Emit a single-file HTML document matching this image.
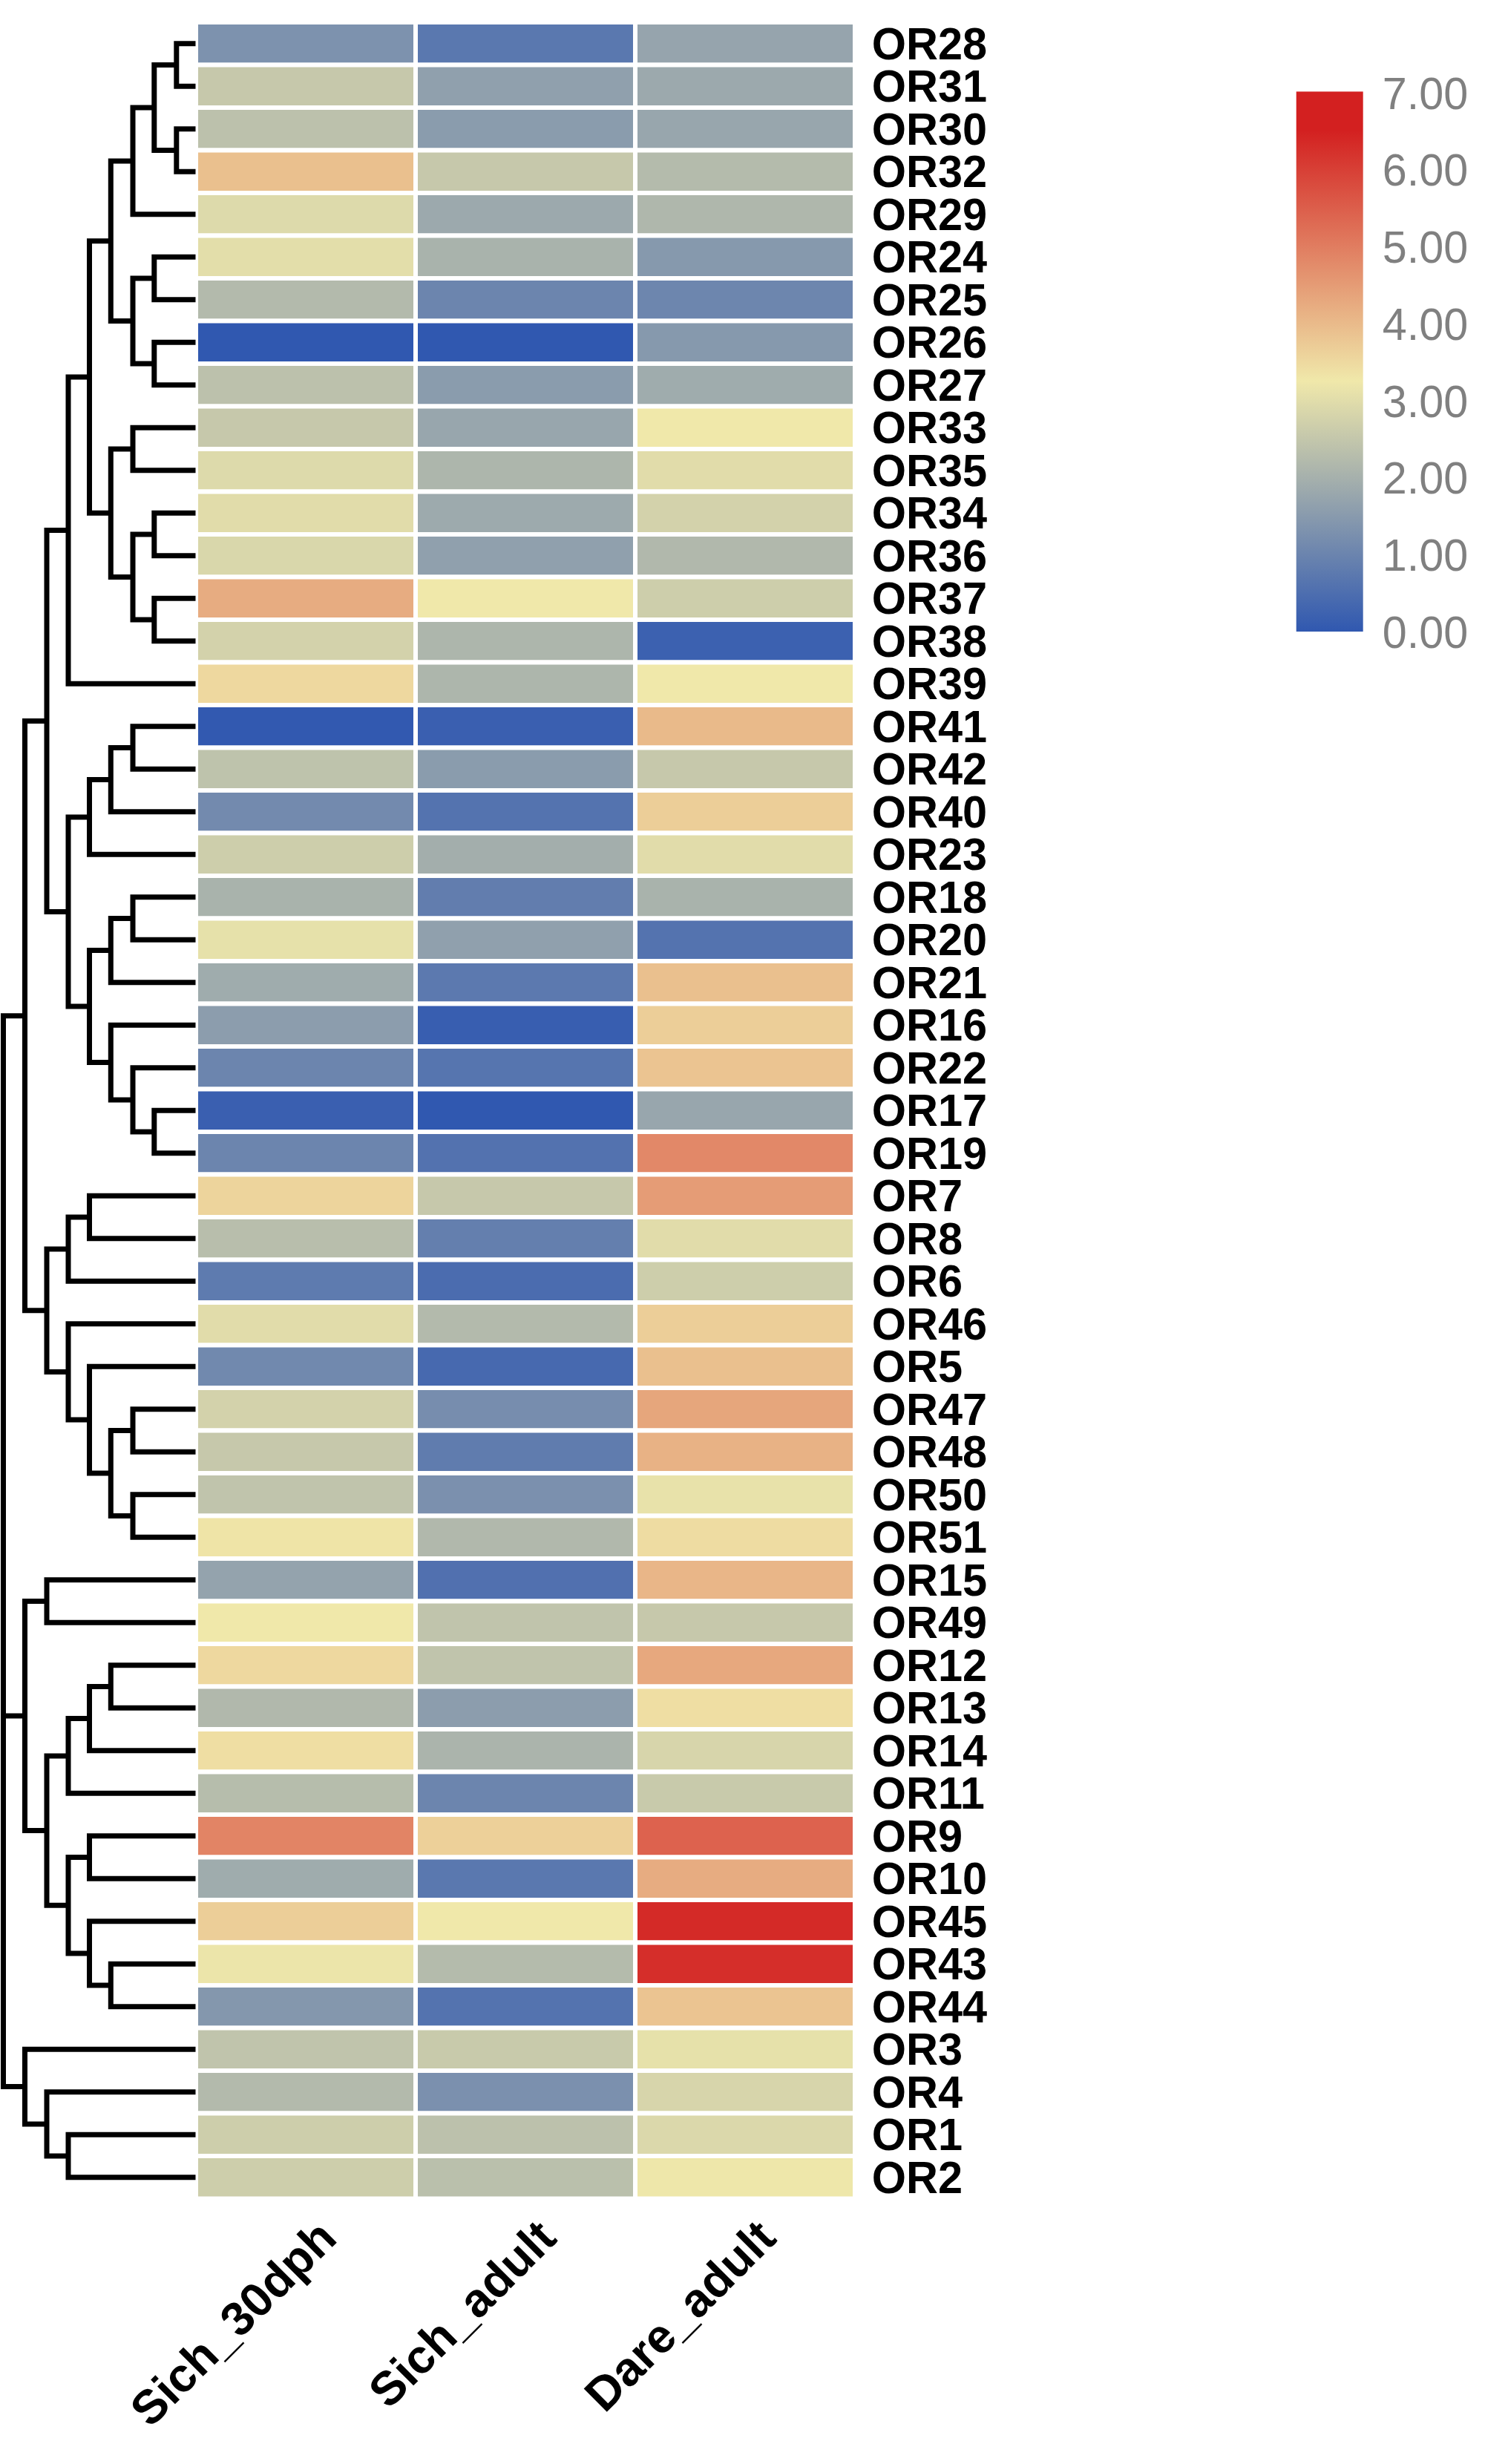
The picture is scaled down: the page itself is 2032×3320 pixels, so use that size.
<!DOCTYPE html><html><head><meta charset="utf-8"><title>Heatmap</title><style>html,body{margin:0;padding:0;background:#fff}svg{display:block}</style></head><body><svg width="2032" height="3320" viewBox="0 0 2032 3320">
<defs><linearGradient id="lg" x1="0" y1="0" x2="0" y2="1"><stop offset="0" stop-color="#d32020"/><stop offset="0.0714" stop-color="#d32020"/><stop offset="0.5357" stop-color="#f0e8aa"/><stop offset="1" stop-color="#3058b0"/></linearGradient></defs>
<rect width="2032" height="3320" fill="#fff"/>
<rect x="264.0" y="30.00" width="296.0" height="57.50" fill="#7d92ae" stroke="#fff" stroke-width="6"/>
<rect x="560.0" y="30.00" width="296.0" height="57.50" fill="#5a78af" stroke="#fff" stroke-width="6"/>
<rect x="856.0" y="30.00" width="296.0" height="57.50" fill="#96a4ad" stroke="#fff" stroke-width="6"/>
<rect x="264.0" y="87.50" width="296.0" height="57.50" fill="#c6c8ab" stroke="#fff" stroke-width="6"/>
<rect x="560.0" y="87.50" width="296.0" height="57.50" fill="#90a0ad" stroke="#fff" stroke-width="6"/>
<rect x="856.0" y="87.50" width="296.0" height="57.50" fill="#9ca9ad" stroke="#fff" stroke-width="6"/>
<rect x="264.0" y="145.00" width="296.0" height="57.50" fill="#bcc1ac" stroke="#fff" stroke-width="6"/>
<rect x="560.0" y="145.00" width="296.0" height="57.50" fill="#8a9cad" stroke="#fff" stroke-width="6"/>
<rect x="856.0" y="145.00" width="296.0" height="57.50" fill="#98a6ad" stroke="#fff" stroke-width="6"/>
<rect x="264.0" y="202.50" width="296.0" height="57.50" fill="#eac08e" stroke="#fff" stroke-width="6"/>
<rect x="560.0" y="202.50" width="296.0" height="57.50" fill="#c6c8ab" stroke="#fff" stroke-width="6"/>
<rect x="856.0" y="202.50" width="296.0" height="57.50" fill="#b4bbac" stroke="#fff" stroke-width="6"/>
<rect x="264.0" y="260.00" width="296.0" height="57.50" fill="#dddaab" stroke="#fff" stroke-width="6"/>
<rect x="560.0" y="260.00" width="296.0" height="57.50" fill="#9ca9ad" stroke="#fff" stroke-width="6"/>
<rect x="856.0" y="260.00" width="296.0" height="57.50" fill="#afb7ac" stroke="#fff" stroke-width="6"/>
<rect x="264.0" y="317.50" width="296.0" height="57.50" fill="#e3deaa" stroke="#fff" stroke-width="6"/>
<rect x="560.0" y="317.50" width="296.0" height="57.50" fill="#a9b3ac" stroke="#fff" stroke-width="6"/>
<rect x="856.0" y="317.50" width="296.0" height="57.50" fill="#8699ad" stroke="#fff" stroke-width="6"/>
<rect x="264.0" y="375.00" width="296.0" height="57.50" fill="#b3baac" stroke="#fff" stroke-width="6"/>
<rect x="560.0" y="375.00" width="296.0" height="57.50" fill="#6c85ae" stroke="#fff" stroke-width="6"/>
<rect x="856.0" y="375.00" width="296.0" height="57.50" fill="#6d86ae" stroke="#fff" stroke-width="6"/>
<rect x="264.0" y="432.50" width="296.0" height="57.50" fill="#3058b0" stroke="#fff" stroke-width="6"/>
<rect x="560.0" y="432.50" width="296.0" height="57.50" fill="#3058b0" stroke="#fff" stroke-width="6"/>
<rect x="856.0" y="432.50" width="296.0" height="57.50" fill="#8699ad" stroke="#fff" stroke-width="6"/>
<rect x="264.0" y="490.00" width="296.0" height="57.50" fill="#bcc1ac" stroke="#fff" stroke-width="6"/>
<rect x="560.0" y="490.00" width="296.0" height="57.50" fill="#8a9cad" stroke="#fff" stroke-width="6"/>
<rect x="856.0" y="490.00" width="296.0" height="57.50" fill="#9facad" stroke="#fff" stroke-width="6"/>
<rect x="264.0" y="547.50" width="296.0" height="57.50" fill="#c6c8ab" stroke="#fff" stroke-width="6"/>
<rect x="560.0" y="547.50" width="296.0" height="57.50" fill="#98a6ad" stroke="#fff" stroke-width="6"/>
<rect x="856.0" y="547.50" width="296.0" height="57.50" fill="#f0e8aa" stroke="#fff" stroke-width="6"/>
<rect x="264.0" y="605.00" width="296.0" height="57.50" fill="#dddaab" stroke="#fff" stroke-width="6"/>
<rect x="560.0" y="605.00" width="296.0" height="57.50" fill="#adb6ac" stroke="#fff" stroke-width="6"/>
<rect x="856.0" y="605.00" width="296.0" height="57.50" fill="#e1dcaa" stroke="#fff" stroke-width="6"/>
<rect x="264.0" y="662.50" width="296.0" height="57.50" fill="#e1dcaa" stroke="#fff" stroke-width="6"/>
<rect x="560.0" y="662.50" width="296.0" height="57.50" fill="#9daaad" stroke="#fff" stroke-width="6"/>
<rect x="856.0" y="662.50" width="296.0" height="57.50" fill="#d3d2ab" stroke="#fff" stroke-width="6"/>
<rect x="264.0" y="720.00" width="296.0" height="57.50" fill="#d9d7ab" stroke="#fff" stroke-width="6"/>
<rect x="560.0" y="720.00" width="296.0" height="57.50" fill="#90a0ad" stroke="#fff" stroke-width="6"/>
<rect x="856.0" y="720.00" width="296.0" height="57.50" fill="#b1b8ac" stroke="#fff" stroke-width="6"/>
<rect x="264.0" y="777.50" width="296.0" height="57.50" fill="#e7ac81" stroke="#fff" stroke-width="6"/>
<rect x="560.0" y="777.50" width="296.0" height="57.50" fill="#f0e8aa" stroke="#fff" stroke-width="6"/>
<rect x="856.0" y="777.50" width="296.0" height="57.50" fill="#cdceab" stroke="#fff" stroke-width="6"/>
<rect x="264.0" y="835.00" width="296.0" height="57.50" fill="#d3d2ab" stroke="#fff" stroke-width="6"/>
<rect x="560.0" y="835.00" width="296.0" height="57.50" fill="#adb6ac" stroke="#fff" stroke-width="6"/>
<rect x="856.0" y="835.00" width="296.0" height="57.50" fill="#3c61b0" stroke="#fff" stroke-width="6"/>
<rect x="264.0" y="892.50" width="296.0" height="57.50" fill="#eed89f" stroke="#fff" stroke-width="6"/>
<rect x="560.0" y="892.50" width="296.0" height="57.50" fill="#adb6ac" stroke="#fff" stroke-width="6"/>
<rect x="856.0" y="892.50" width="296.0" height="57.50" fill="#f0e8aa" stroke="#fff" stroke-width="6"/>
<rect x="264.0" y="950.00" width="296.0" height="57.50" fill="#3259b0" stroke="#fff" stroke-width="6"/>
<rect x="560.0" y="950.00" width="296.0" height="57.50" fill="#3a5fb0" stroke="#fff" stroke-width="6"/>
<rect x="856.0" y="950.00" width="296.0" height="57.50" fill="#e9ba8a" stroke="#fff" stroke-width="6"/>
<rect x="264.0" y="1007.50" width="296.0" height="57.50" fill="#bec3ac" stroke="#fff" stroke-width="6"/>
<rect x="560.0" y="1007.50" width="296.0" height="57.50" fill="#8a9cad" stroke="#fff" stroke-width="6"/>
<rect x="856.0" y="1007.50" width="296.0" height="57.50" fill="#c6c8ab" stroke="#fff" stroke-width="6"/>
<rect x="264.0" y="1065.00" width="296.0" height="57.50" fill="#738aae" stroke="#fff" stroke-width="6"/>
<rect x="560.0" y="1065.00" width="296.0" height="57.50" fill="#5473af" stroke="#fff" stroke-width="6"/>
<rect x="856.0" y="1065.00" width="296.0" height="57.50" fill="#ecce98" stroke="#fff" stroke-width="6"/>
<rect x="264.0" y="1122.50" width="296.0" height="57.50" fill="#cdceab" stroke="#fff" stroke-width="6"/>
<rect x="560.0" y="1122.50" width="296.0" height="57.50" fill="#a3aeac" stroke="#fff" stroke-width="6"/>
<rect x="856.0" y="1122.50" width="296.0" height="57.50" fill="#e1dcaa" stroke="#fff" stroke-width="6"/>
<rect x="264.0" y="1180.00" width="296.0" height="57.50" fill="#a9b3ac" stroke="#fff" stroke-width="6"/>
<rect x="560.0" y="1180.00" width="296.0" height="57.50" fill="#627dae" stroke="#fff" stroke-width="6"/>
<rect x="856.0" y="1180.00" width="296.0" height="57.50" fill="#a9b3ac" stroke="#fff" stroke-width="6"/>
<rect x="264.0" y="1237.50" width="296.0" height="57.50" fill="#e6e1aa" stroke="#fff" stroke-width="6"/>
<rect x="560.0" y="1237.50" width="296.0" height="57.50" fill="#90a0ad" stroke="#fff" stroke-width="6"/>
<rect x="856.0" y="1237.50" width="296.0" height="57.50" fill="#5473af" stroke="#fff" stroke-width="6"/>
<rect x="264.0" y="1295.00" width="296.0" height="57.50" fill="#9facad" stroke="#fff" stroke-width="6"/>
<rect x="560.0" y="1295.00" width="296.0" height="57.50" fill="#5c79af" stroke="#fff" stroke-width="6"/>
<rect x="856.0" y="1295.00" width="296.0" height="57.50" fill="#eac08e" stroke="#fff" stroke-width="6"/>
<rect x="264.0" y="1352.50" width="296.0" height="57.50" fill="#8c9dad" stroke="#fff" stroke-width="6"/>
<rect x="560.0" y="1352.50" width="296.0" height="57.50" fill="#385eb0" stroke="#fff" stroke-width="6"/>
<rect x="856.0" y="1352.50" width="296.0" height="57.50" fill="#ecce98" stroke="#fff" stroke-width="6"/>
<rect x="264.0" y="1410.00" width="296.0" height="57.50" fill="#6c85ae" stroke="#fff" stroke-width="6"/>
<rect x="560.0" y="1410.00" width="296.0" height="57.50" fill="#5675af" stroke="#fff" stroke-width="6"/>
<rect x="856.0" y="1410.00" width="296.0" height="57.50" fill="#ebc491" stroke="#fff" stroke-width="6"/>
<rect x="264.0" y="1467.50" width="296.0" height="57.50" fill="#3a5fb0" stroke="#fff" stroke-width="6"/>
<rect x="560.0" y="1467.50" width="296.0" height="57.50" fill="#3058b0" stroke="#fff" stroke-width="6"/>
<rect x="856.0" y="1467.50" width="296.0" height="57.50" fill="#98a6ad" stroke="#fff" stroke-width="6"/>
<rect x="264.0" y="1525.00" width="296.0" height="57.50" fill="#6c85ae" stroke="#fff" stroke-width="6"/>
<rect x="560.0" y="1525.00" width="296.0" height="57.50" fill="#5372af" stroke="#fff" stroke-width="6"/>
<rect x="856.0" y="1525.00" width="296.0" height="57.50" fill="#e28868" stroke="#fff" stroke-width="6"/>
<rect x="264.0" y="1582.50" width="296.0" height="57.50" fill="#edd49c" stroke="#fff" stroke-width="6"/>
<rect x="560.0" y="1582.50" width="296.0" height="57.50" fill="#c6c8ab" stroke="#fff" stroke-width="6"/>
<rect x="856.0" y="1582.50" width="296.0" height="57.50" fill="#e59c76" stroke="#fff" stroke-width="6"/>
<rect x="264.0" y="1640.00" width="296.0" height="57.50" fill="#b8beac" stroke="#fff" stroke-width="6"/>
<rect x="560.0" y="1640.00" width="296.0" height="57.50" fill="#647fae" stroke="#fff" stroke-width="6"/>
<rect x="856.0" y="1640.00" width="296.0" height="57.50" fill="#e1dcaa" stroke="#fff" stroke-width="6"/>
<rect x="264.0" y="1697.50" width="296.0" height="57.50" fill="#5e7baf" stroke="#fff" stroke-width="6"/>
<rect x="560.0" y="1697.50" width="296.0" height="57.50" fill="#4b6caf" stroke="#fff" stroke-width="6"/>
<rect x="856.0" y="1697.50" width="296.0" height="57.50" fill="#cdceab" stroke="#fff" stroke-width="6"/>
<rect x="264.0" y="1755.00" width="296.0" height="57.50" fill="#e1dcaa" stroke="#fff" stroke-width="6"/>
<rect x="560.0" y="1755.00" width="296.0" height="57.50" fill="#b3baac" stroke="#fff" stroke-width="6"/>
<rect x="856.0" y="1755.00" width="296.0" height="57.50" fill="#ecce98" stroke="#fff" stroke-width="6"/>
<rect x="264.0" y="1812.50" width="296.0" height="57.50" fill="#7189ae" stroke="#fff" stroke-width="6"/>
<rect x="560.0" y="1812.50" width="296.0" height="57.50" fill="#4769af" stroke="#fff" stroke-width="6"/>
<rect x="856.0" y="1812.50" width="296.0" height="57.50" fill="#eac08e" stroke="#fff" stroke-width="6"/>
<rect x="264.0" y="1870.00" width="296.0" height="57.50" fill="#d3d2ab" stroke="#fff" stroke-width="6"/>
<rect x="560.0" y="1870.00" width="296.0" height="57.50" fill="#778dae" stroke="#fff" stroke-width="6"/>
<rect x="856.0" y="1870.00" width="296.0" height="57.50" fill="#e6a67c" stroke="#fff" stroke-width="6"/>
<rect x="264.0" y="1927.50" width="296.0" height="57.50" fill="#c6c8ab" stroke="#fff" stroke-width="6"/>
<rect x="560.0" y="1927.50" width="296.0" height="57.50" fill="#607cae" stroke="#fff" stroke-width="6"/>
<rect x="856.0" y="1927.50" width="296.0" height="57.50" fill="#e8b285" stroke="#fff" stroke-width="6"/>
<rect x="264.0" y="1985.00" width="296.0" height="57.50" fill="#c0c4ac" stroke="#fff" stroke-width="6"/>
<rect x="560.0" y="1985.00" width="296.0" height="57.50" fill="#7b90ae" stroke="#fff" stroke-width="6"/>
<rect x="856.0" y="1985.00" width="296.0" height="57.50" fill="#e8e2aa" stroke="#fff" stroke-width="6"/>
<rect x="264.0" y="2042.50" width="296.0" height="57.50" fill="#efe4a7" stroke="#fff" stroke-width="6"/>
<rect x="560.0" y="2042.50" width="296.0" height="57.50" fill="#b1b8ac" stroke="#fff" stroke-width="6"/>
<rect x="856.0" y="2042.50" width="296.0" height="57.50" fill="#eedca2" stroke="#fff" stroke-width="6"/>
<rect x="264.0" y="2100.00" width="296.0" height="57.50" fill="#94a3ad" stroke="#fff" stroke-width="6"/>
<rect x="560.0" y="2100.00" width="296.0" height="57.50" fill="#5170af" stroke="#fff" stroke-width="6"/>
<rect x="856.0" y="2100.00" width="296.0" height="57.50" fill="#e9b688" stroke="#fff" stroke-width="6"/>
<rect x="264.0" y="2157.50" width="296.0" height="57.50" fill="#f0e8aa" stroke="#fff" stroke-width="6"/>
<rect x="560.0" y="2157.50" width="296.0" height="57.50" fill="#c0c4ac" stroke="#fff" stroke-width="6"/>
<rect x="856.0" y="2157.50" width="296.0" height="57.50" fill="#c6c8ab" stroke="#fff" stroke-width="6"/>
<rect x="264.0" y="2215.00" width="296.0" height="57.50" fill="#eed89f" stroke="#fff" stroke-width="6"/>
<rect x="560.0" y="2215.00" width="296.0" height="57.50" fill="#c0c4ac" stroke="#fff" stroke-width="6"/>
<rect x="856.0" y="2215.00" width="296.0" height="57.50" fill="#e7a87e" stroke="#fff" stroke-width="6"/>
<rect x="264.0" y="2272.50" width="296.0" height="57.50" fill="#b1b8ac" stroke="#fff" stroke-width="6"/>
<rect x="560.0" y="2272.50" width="296.0" height="57.50" fill="#8c9dad" stroke="#fff" stroke-width="6"/>
<rect x="856.0" y="2272.50" width="296.0" height="57.50" fill="#efdea3" stroke="#fff" stroke-width="6"/>
<rect x="264.0" y="2330.00" width="296.0" height="57.50" fill="#efdea3" stroke="#fff" stroke-width="6"/>
<rect x="560.0" y="2330.00" width="296.0" height="57.50" fill="#abb4ac" stroke="#fff" stroke-width="6"/>
<rect x="856.0" y="2330.00" width="296.0" height="57.50" fill="#d7d5ab" stroke="#fff" stroke-width="6"/>
<rect x="264.0" y="2387.50" width="296.0" height="57.50" fill="#b6bdac" stroke="#fff" stroke-width="6"/>
<rect x="560.0" y="2387.50" width="296.0" height="57.50" fill="#6c85ae" stroke="#fff" stroke-width="6"/>
<rect x="856.0" y="2387.50" width="296.0" height="57.50" fill="#c8caab" stroke="#fff" stroke-width="6"/>
<rect x="264.0" y="2445.00" width="296.0" height="57.50" fill="#e28465" stroke="#fff" stroke-width="6"/>
<rect x="560.0" y="2445.00" width="296.0" height="57.50" fill="#edd099" stroke="#fff" stroke-width="6"/>
<rect x="856.0" y="2445.00" width="296.0" height="57.50" fill="#dd624e" stroke="#fff" stroke-width="6"/>
<rect x="264.0" y="2502.50" width="296.0" height="57.50" fill="#9facad" stroke="#fff" stroke-width="6"/>
<rect x="560.0" y="2502.50" width="296.0" height="57.50" fill="#5a78af" stroke="#fff" stroke-width="6"/>
<rect x="856.0" y="2502.50" width="296.0" height="57.50" fill="#e7ac81" stroke="#fff" stroke-width="6"/>
<rect x="264.0" y="2560.00" width="296.0" height="57.50" fill="#ecce98" stroke="#fff" stroke-width="6"/>
<rect x="560.0" y="2560.00" width="296.0" height="57.50" fill="#f0e8aa" stroke="#fff" stroke-width="6"/>
<rect x="856.0" y="2560.00" width="296.0" height="57.50" fill="#d42a27" stroke="#fff" stroke-width="6"/>
<rect x="264.0" y="2617.50" width="296.0" height="57.50" fill="#ece5aa" stroke="#fff" stroke-width="6"/>
<rect x="560.0" y="2617.50" width="296.0" height="57.50" fill="#b4bbac" stroke="#fff" stroke-width="6"/>
<rect x="856.0" y="2617.50" width="296.0" height="57.50" fill="#d52e2a" stroke="#fff" stroke-width="6"/>
<rect x="264.0" y="2675.00" width="296.0" height="57.50" fill="#8497ad" stroke="#fff" stroke-width="6"/>
<rect x="560.0" y="2675.00" width="296.0" height="57.50" fill="#5473af" stroke="#fff" stroke-width="6"/>
<rect x="856.0" y="2675.00" width="296.0" height="57.50" fill="#ebc491" stroke="#fff" stroke-width="6"/>
<rect x="264.0" y="2732.50" width="296.0" height="57.50" fill="#c0c4ac" stroke="#fff" stroke-width="6"/>
<rect x="560.0" y="2732.50" width="296.0" height="57.50" fill="#c8caab" stroke="#fff" stroke-width="6"/>
<rect x="856.0" y="2732.50" width="296.0" height="57.50" fill="#e6e1aa" stroke="#fff" stroke-width="6"/>
<rect x="264.0" y="2790.00" width="296.0" height="57.50" fill="#b3baac" stroke="#fff" stroke-width="6"/>
<rect x="560.0" y="2790.00" width="296.0" height="57.50" fill="#7b90ae" stroke="#fff" stroke-width="6"/>
<rect x="856.0" y="2790.00" width="296.0" height="57.50" fill="#d7d5ab" stroke="#fff" stroke-width="6"/>
<rect x="264.0" y="2847.50" width="296.0" height="57.50" fill="#cdceab" stroke="#fff" stroke-width="6"/>
<rect x="560.0" y="2847.50" width="296.0" height="57.50" fill="#bcc1ac" stroke="#fff" stroke-width="6"/>
<rect x="856.0" y="2847.50" width="296.0" height="57.50" fill="#dbd8ab" stroke="#fff" stroke-width="6"/>
<rect x="264.0" y="2905.00" width="296.0" height="57.50" fill="#cdceab" stroke="#fff" stroke-width="6"/>
<rect x="560.0" y="2905.00" width="296.0" height="57.50" fill="#bac0ac" stroke="#fff" stroke-width="6"/>
<rect x="856.0" y="2905.00" width="296.0" height="57.50" fill="#eee7aa" stroke="#fff" stroke-width="6"/>
<path d="M234.3 58.75H263.5M234.3 116.25H263.5M237.8 55.25V119.75M234.3 173.75H263.5M234.3 231.25H263.5M237.8 170.25V234.75M204.3 87.50H237.8M204.3 202.50H237.8M207.8 84.00V206.00M175.5 145.00H207.8M175.5 288.75H263.5M179.0 141.50V292.25M204.3 346.25H263.5M204.3 403.75H263.5M207.8 342.75V407.25M204.3 461.25H263.5M204.3 518.75H263.5M207.8 457.75V522.25M175.5 375.00H207.8M175.5 490.00H207.8M179.0 371.50V493.50M145.8 216.88H179.0M145.8 432.50H179.0M149.3 213.38V436.00M175.5 576.25H263.5M175.5 633.75H263.5M179.0 572.75V637.25M204.3 691.25H263.5M204.3 748.75H263.5M207.8 687.75V752.25M204.3 806.25H263.5M204.3 863.75H263.5M207.8 802.75V867.25M175.5 720.00H207.8M175.5 835.00H207.8M179.0 716.50V838.50M145.8 605.00H179.0M145.8 777.50H179.0M149.3 601.50V781.00M117.0 324.69H149.3M117.0 691.25H149.3M120.5 321.19V694.75M88.5 507.97H120.5M88.5 921.25H263.5M92.0 504.47V924.75M175.5 978.75H263.5M175.5 1036.25H263.5M179.0 975.25V1039.75M145.8 1007.50H179.0M145.8 1093.75H263.5M149.3 1004.00V1097.25M117.0 1050.62H149.3M117.0 1151.25H263.5M120.5 1047.12V1154.75M175.5 1208.75H263.5M175.5 1266.25H263.5M179.0 1205.25V1269.75M145.8 1237.50H179.0M145.8 1323.75H263.5M149.3 1234.00V1327.25M204.3 1496.25H263.5M204.3 1553.75H263.5M207.8 1492.75V1557.25M175.5 1438.75H263.5M175.5 1525.00H207.8M179.0 1435.25V1528.50M145.8 1381.25H263.5M145.8 1481.88H179.0M149.3 1377.75V1485.38M117.0 1280.62H149.3M117.0 1431.56H149.3M120.5 1277.12V1435.06M88.5 1100.94H120.5M88.5 1356.09H120.5M92.0 1097.44V1359.59M59.5 714.61H92.0M59.5 1228.52H92.0M63.0 711.11V1232.02M117.0 1611.25H263.5M117.0 1668.75H263.5M120.5 1607.75V1672.25M88.5 1640.00H120.5M88.5 1726.25H263.5M92.0 1636.50V1729.75M175.5 1898.75H263.5M175.5 1956.25H263.5M179.0 1895.25V1959.75M175.5 2013.75H263.5M175.5 2071.25H263.5M179.0 2010.25V2074.75M145.8 1927.50H179.0M145.8 2042.50H179.0M149.3 1924.00V2046.00M117.0 1841.25H263.5M117.0 1985.00H149.3M120.5 1837.75V1988.50M88.5 1783.75H263.5M88.5 1913.12H120.5M92.0 1780.25V1916.62M59.5 1683.12H92.0M59.5 1848.44H92.0M63.0 1679.62V1851.94M30.0 971.56H63.0M30.0 1765.78H63.0M33.5 968.06V1769.28M59.5 2128.75H263.5M59.5 2186.25H263.5M63.0 2125.25V2189.75M145.8 2243.75H263.5M145.8 2301.25H263.5M149.3 2240.25V2304.75M117.0 2272.50H149.3M117.0 2358.75H263.5M120.5 2269.00V2362.25M88.5 2315.62H120.5M88.5 2416.25H263.5M92.0 2312.12V2419.75M117.0 2473.75H263.5M117.0 2531.25H263.5M120.5 2470.25V2534.75M145.8 2646.25H263.5M145.8 2703.75H263.5M149.3 2642.75V2707.25M117.0 2588.75H263.5M117.0 2675.00H149.3M120.5 2585.25V2678.50M88.5 2502.50H120.5M88.5 2631.88H120.5M92.0 2499.00V2635.38M59.5 2365.94H92.0M59.5 2567.19H92.0M63.0 2362.44V2570.69M30.0 2157.50H63.0M30.0 2466.56H63.0M33.5 2154.00V2470.06M88.5 2876.25H263.5M88.5 2933.75H263.5M92.0 2872.75V2937.25M59.5 2818.75H263.5M59.5 2905.00H92.0M63.0 2815.25V2908.50M30.0 2761.25H263.5M30.0 2861.88H63.0M33.5 2757.75V2865.38M1.0 1368.67H33.5M1.0 2312.03H33.5M1.0 2811.56H33.5M4.5 1365.17V2815.06" fill="none" stroke="#000" stroke-width="7"/>
<g font-family="'Liberation Sans', Arial, sans-serif" font-weight="700" font-size="61.6" fill="#000">
<text transform="translate(1174.8 79.85) scale(0.966 1)">OR28</text>
<text transform="translate(1174.8 137.35) scale(0.966 1)">OR31</text>
<text transform="translate(1174.8 194.85) scale(0.966 1)">OR30</text>
<text transform="translate(1174.8 252.35) scale(0.966 1)">OR32</text>
<text transform="translate(1174.8 309.85) scale(0.966 1)">OR29</text>
<text transform="translate(1174.8 367.35) scale(0.966 1)">OR24</text>
<text transform="translate(1174.8 424.85) scale(0.966 1)">OR25</text>
<text transform="translate(1174.8 482.35) scale(0.966 1)">OR26</text>
<text transform="translate(1174.8 539.85) scale(0.966 1)">OR27</text>
<text transform="translate(1174.8 597.35) scale(0.966 1)">OR33</text>
<text transform="translate(1174.8 654.85) scale(0.966 1)">OR35</text>
<text transform="translate(1174.8 712.35) scale(0.966 1)">OR34</text>
<text transform="translate(1174.8 769.85) scale(0.966 1)">OR36</text>
<text transform="translate(1174.8 827.35) scale(0.966 1)">OR37</text>
<text transform="translate(1174.8 884.85) scale(0.966 1)">OR38</text>
<text transform="translate(1174.8 942.35) scale(0.966 1)">OR39</text>
<text transform="translate(1174.8 999.85) scale(0.966 1)">OR41</text>
<text transform="translate(1174.8 1057.35) scale(0.966 1)">OR42</text>
<text transform="translate(1174.8 1114.85) scale(0.966 1)">OR40</text>
<text transform="translate(1174.8 1172.35) scale(0.966 1)">OR23</text>
<text transform="translate(1174.8 1229.85) scale(0.966 1)">OR18</text>
<text transform="translate(1174.8 1287.35) scale(0.966 1)">OR20</text>
<text transform="translate(1174.8 1344.85) scale(0.966 1)">OR21</text>
<text transform="translate(1174.8 1402.35) scale(0.966 1)">OR16</text>
<text transform="translate(1174.8 1459.85) scale(0.966 1)">OR22</text>
<text transform="translate(1174.8 1517.35) scale(0.966 1)">OR17</text>
<text transform="translate(1174.8 1574.85) scale(0.966 1)">OR19</text>
<text transform="translate(1174.8 1632.35) scale(0.966 1)">OR7</text>
<text transform="translate(1174.8 1689.85) scale(0.966 1)">OR8</text>
<text transform="translate(1174.8 1747.35) scale(0.966 1)">OR6</text>
<text transform="translate(1174.8 1804.85) scale(0.966 1)">OR46</text>
<text transform="translate(1174.8 1862.35) scale(0.966 1)">OR5</text>
<text transform="translate(1174.8 1919.85) scale(0.966 1)">OR47</text>
<text transform="translate(1174.8 1977.35) scale(0.966 1)">OR48</text>
<text transform="translate(1174.8 2034.85) scale(0.966 1)">OR50</text>
<text transform="translate(1174.8 2092.35) scale(0.966 1)">OR51</text>
<text transform="translate(1174.8 2149.85) scale(0.966 1)">OR15</text>
<text transform="translate(1174.8 2207.35) scale(0.966 1)">OR49</text>
<text transform="translate(1174.8 2264.85) scale(0.966 1)">OR12</text>
<text transform="translate(1174.8 2322.35) scale(0.966 1)">OR13</text>
<text transform="translate(1174.8 2379.85) scale(0.966 1)">OR14</text>
<text transform="translate(1174.8 2437.35) scale(0.966 1)">OR11</text>
<text transform="translate(1174.8 2494.85) scale(0.966 1)">OR9</text>
<text transform="translate(1174.8 2552.35) scale(0.966 1)">OR10</text>
<text transform="translate(1174.8 2609.85) scale(0.966 1)">OR45</text>
<text transform="translate(1174.8 2667.35) scale(0.966 1)">OR43</text>
<text transform="translate(1174.8 2724.85) scale(0.966 1)">OR44</text>
<text transform="translate(1174.8 2782.35) scale(0.966 1)">OR3</text>
<text transform="translate(1174.8 2839.85) scale(0.966 1)">OR4</text>
<text transform="translate(1174.8 2897.35) scale(0.966 1)">OR1</text>
<text transform="translate(1174.8 2954.85) scale(0.966 1)">OR2</text>
</g>
<g font-family="'Liberation Sans', Arial, sans-serif" font-weight="700" font-size="64" fill="#000">
<text text-anchor="end" transform="translate(456.6 3018.8) rotate(-45)">Sich_30dph</text>
<text text-anchor="end" transform="translate(752.6 3018.8) rotate(-45)">Sich_adult</text>
<text text-anchor="end" transform="translate(1048.6 3018.8) rotate(-45)">Dare_adult</text>
</g>
<rect x="1746.7" y="123.4" width="90" height="727.6" fill="url(#lg)"/>
<g font-family="'Liberation Sans', Arial, sans-serif" font-size="60.6" fill="#808080">
<text transform="translate(1862.8 872.6) scale(0.979 1)">0.00</text>
<text transform="translate(1862.8 768.9) scale(0.979 1)">1.00</text>
<text transform="translate(1862.8 665.2) scale(0.979 1)">2.00</text>
<text transform="translate(1862.8 561.5) scale(0.979 1)">3.00</text>
<text transform="translate(1862.8 457.8) scale(0.979 1)">4.00</text>
<text transform="translate(1862.8 354.1) scale(0.979 1)">5.00</text>
<text transform="translate(1862.8 250.4) scale(0.979 1)">6.00</text>
<text transform="translate(1862.8 146.7) scale(0.979 1)">7.00</text>
</g>
</svg></body></html>
